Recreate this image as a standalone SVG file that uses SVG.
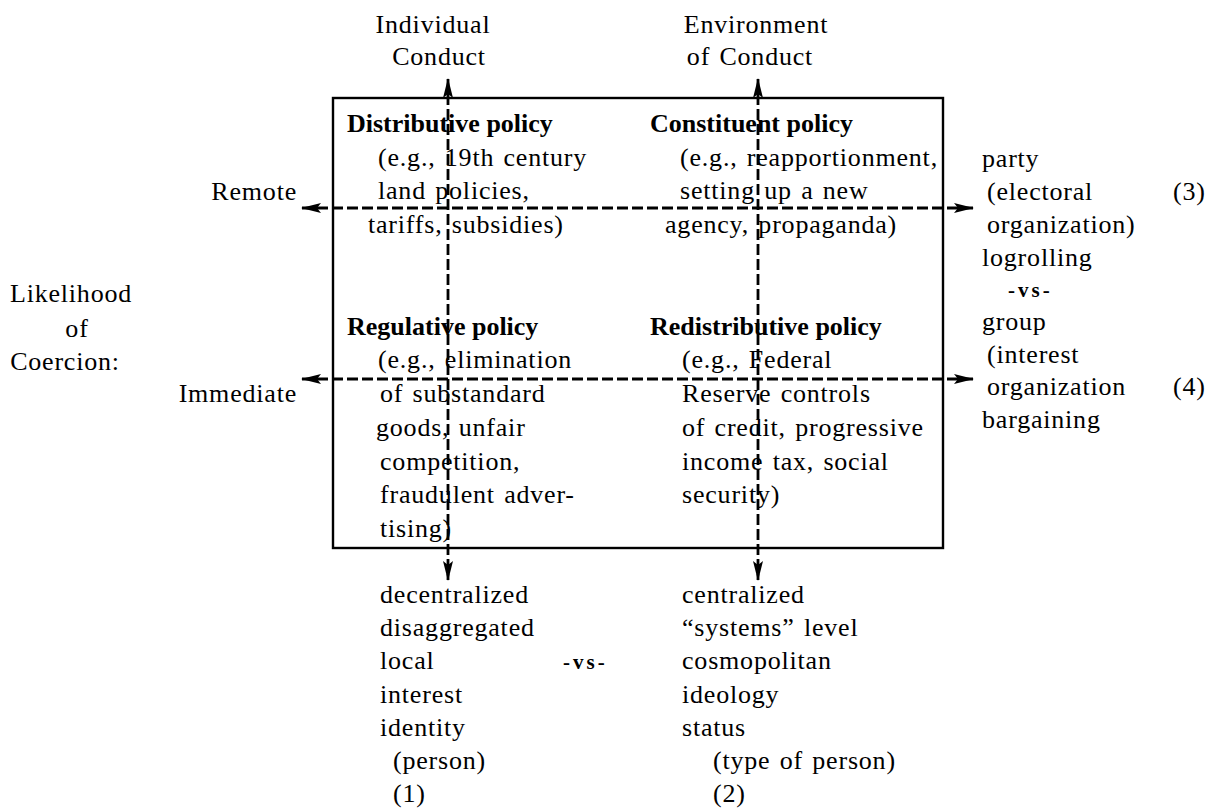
<svg xmlns="http://www.w3.org/2000/svg" width="1225" height="810" viewBox="0 0 1225 810">
<style>
text{font-family:"Liberation Serif","Times New Roman",serif;font-size:26px;fill:#000;letter-spacing:0.8px;word-spacing:2px}
.b{font-weight:bold;letter-spacing:0;word-spacing:0}
.d{stroke:#000;stroke-width:2.8;stroke-dasharray:11 4;fill:none}
.vs{font-size:21px;font-weight:bold;letter-spacing:3px}
</style>
<defs>
<marker id="ah" viewBox="0 0 20 10" refX="19" refY="5" markerWidth="20" markerHeight="10" markerUnits="userSpaceOnUse" orient="auto-start-reverse">
<path d="M0,0 L20,5 L0,10 L4,5 Z" fill="#000"/>
</marker>
</defs>
<rect width="1225" height="810" fill="#fff"/>
<g id="frame"><rect x="333" y="98" width="610" height="450" fill="none" stroke="#000" stroke-width="2.4"/></g>
<g id="connectors">
<line class="d" x1="448" y1="79" x2="448" y2="580" marker-start="url(#ah)" marker-end="url(#ah)"/>
<line class="d" x1="758" y1="79" x2="758" y2="580" marker-start="url(#ah)" marker-end="url(#ah)"/>
<line class="d" x1="302" y1="208" x2="973" y2="208" marker-start="url(#ah)" marker-end="url(#ah)"/>
<line class="d" x1="302" y1="379" x2="973" y2="379" marker-start="url(#ah)" marker-end="url(#ah)"/>
</g>
<g id="top-labels">
<text x="433" y="33" text-anchor="middle">Individual</text>
<text x="439" y="65" text-anchor="middle">Conduct</text>
<text x="756" y="33" text-anchor="middle">Environment</text>
<text x="750" y="65" text-anchor="middle">of Conduct</text>
</g>
<g id="left-labels">
<text x="297" y="200" text-anchor="end">Remote</text>
<text x="297" y="402" text-anchor="end">Immediate</text>
<text x="71" y="302" text-anchor="middle">Likelihood</text>
<text x="77" y="337" text-anchor="middle">of</text>
<text x="65" y="370" text-anchor="middle">Coercion:</text>
</g>
<g id="distributive">
<text class="b" x="347" y="132">Distributive policy</text>
<text x="378" y="166">(e.g., 19th century</text>
<text x="378" y="199">land policies,</text>
<text x="368" y="233">tariffs, subsidies)</text>
</g>
<g id="constituent">
<text class="b" x="650" y="132">Constituent policy</text>
<text x="680" y="166">(e.g., reapportionment,</text>
<text x="680" y="199">setting up a new</text>
<text x="665" y="233">agency, propaganda)</text>
</g>
<g id="regulative">
<text class="b" x="347" y="335">Regulative policy</text>
<text x="378" y="368">(e.g., elimination</text>
<text x="380" y="402">of substandard</text>
<text x="376" y="436">goods, unfair</text>
<text x="380" y="470">competition,</text>
<text x="380" y="503">fraudulent adver-</text>
<text x="380" y="537">tising)</text>
</g>
<g id="redistributive">
<text class="b" x="650" y="335">Redistributive policy</text>
<text x="682" y="368">(e.g., Federal</text>
<text x="682" y="402">Reserve controls</text>
<text x="682" y="436">of credit, progressive</text>
<text x="682" y="470">income tax, social</text>
<text x="682" y="503">security)</text>
</g>
<g id="right-labels">
<text x="982" y="167">party</text>
<text x="987" y="200">(electoral</text>
<text x="987" y="233">organization)</text>
<text x="982" y="266">logrolling</text>
<text class="vs" x="1008" y="297">-vs-</text>
<text x="982" y="330">group</text>
<text x="987" y="363">(interest</text>
<text x="987" y="395">organization</text>
<text x="982" y="428">bargaining</text>
<text x="1173" y="200">(3)</text>
<text x="1173" y="395">(4)</text>
</g>
<g id="bottom-left">
<text x="380" y="603">decentralized</text>
<text x="380" y="636">disaggregated</text>
<text x="380" y="669">local</text>
<text x="380" y="703">interest</text>
<text x="380" y="736">identity</text>
<text x="393" y="769">(person)</text>
<text x="393" y="802">(1)</text>
</g>
<g id="vs-bottom"><text class="vs" x="563" y="669">-vs-</text></g>
<g id="bottom-right">
<text x="682" y="603">centralized</text>
<text x="682" y="636">“systems” level</text>
<text x="682" y="669">cosmopolitan</text>
<text x="682" y="703">ideology</text>
<text x="682" y="736">status</text>
<text x="713" y="769">(type of person)</text>
<text x="713" y="802">(2)</text>
</g>
</svg>
